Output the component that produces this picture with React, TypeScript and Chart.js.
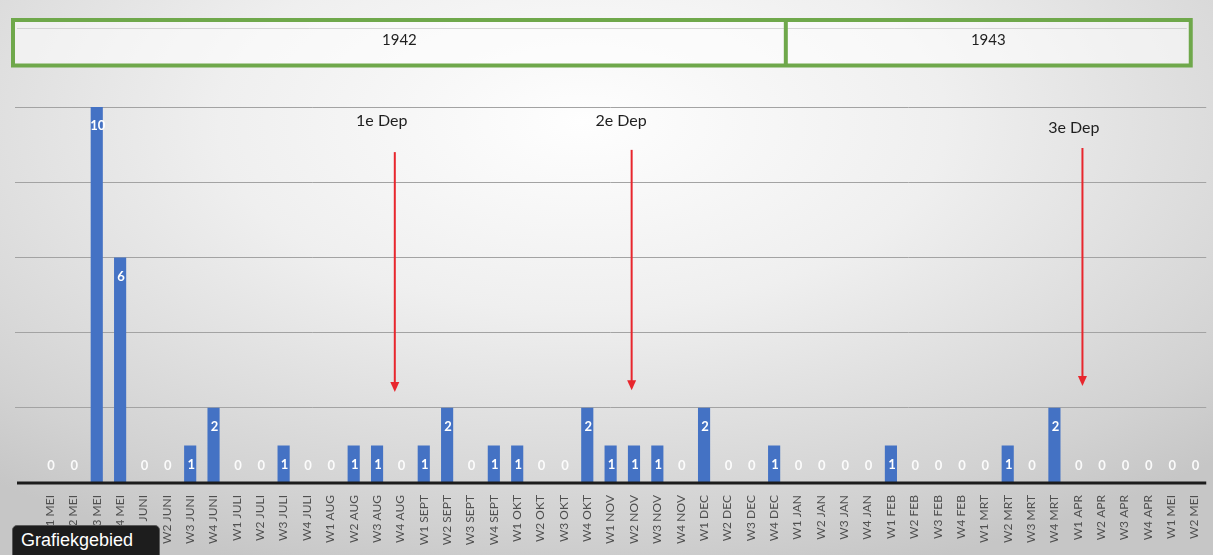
import React, { useEffect, useRef } from "react";
import { Chart, registerables } from "chart.js";

Chart.register(...registerables);

const categories: string[] = [
  "",
  "W1 MEI", "W2 MEI", "W3 MEI", "W4 MEI",
  "W1 JUNI", "W2 JUNI", "W3 JUNI", "W4 JUNI",
  "W1 JULI", "W2 JULI", "W3 JULI", "W4 JULI",
  "W1 AUG", "W2 AUG", "W3 AUG", "W4 AUG",
  "W1 SEPT", "W2 SEPT", "W3 SEPT", "W4 SEPT",
  "W1 OKT", "W2 OKT", "W3 OKT", "W4 OKT",
  "W1 NOV", "W2 NOV", "W3 NOV", "W4 NOV",
  "W1 DEC", "W2 DEC", "W3 DEC", "W4 DEC",
  "W1 JAN", "W2 JAN", "W3 JAN", "W4 JAN",
  "W1 FEB", "W2 FEB", "W3 FEB", "W4 FEB",
  "W1 MRT", "W2 MRT", "W3 MRT", "W4 MRT",
  "W1 APR", "W2 APR", "W3 APR", "W4 APR",
  "W1 MEI", "W2 MEI",
];

const counts: (number | null)[] = [
  null,
  0, 0, 10, 6,
  0, 0, 1, 2,
  0, 0, 1, 0,
  0, 1, 1, 0,
  1, 2, 0, 1,
  1, 0, 0, 2,
  1, 1, 1, 0,
  2, 0, 0, 1,
  0, 0, 0, 0,
  1, 0, 0, 0,
  0, 1, 0, 2,
  0, 0, 0, 0,
  0, 0,
];

const yTicks: number[] = [0, 2, 4, 6, 8, 10];

const years: string[] = ["1942", "1943"];
// last category index (in categories) of each year block
const yearEnds: number[] = [32, 50];

const depLabels: string[] = ["1e Dep", "2e Dep", "3e Dep"];
const depArrowAt: number[] = [15.76, 25.9, 45.2];
const depLabelAt: number[] = [15.2, 25.45, 44.83];
const depLabelValue: number[] = [9.63, 9.63, 9.45];
const depArrowTop: number[] = [8.8, 8.86, 8.91];
const depArrowBottom: number[] = [2.42, 2.47, 2.58];

const BAR = "#4472C4";
const GREEN = "#6FA84B";
const RED = "#E8262D";
const FONT = "Lato, 'Open Sans', sans-serif";

const overlayPlugin = {
  id: "overlay",
  beforeDatasetsDraw(chart: any) {
    const { ctx, chartArea, scales } = chart;
    const x = scales.x;
    ctx.save();
    const top = 20;
    const bottom = 65.5;
    const left = chartArea.left - 2;
    const right = chartArea.right - 15.5;
    ctx.fillStyle = "rgba(255,255,255,0.55)";
    ctx.fillRect(left, top, right - left, bottom - top);
    ctx.strokeStyle = "rgba(190,190,190,0.6)";
    ctx.lineWidth = 1;
    ctx.beginPath();
    ctx.moveTo(left + 4, 28.5);
    ctx.lineTo(right - 4, 28.5);
    ctx.stroke();
    ctx.strokeStyle = GREEN;
    ctx.lineWidth = 4;
    ctx.strokeRect(left, top, right - left, bottom - top);
    let start = left;
    years.forEach((yr, i) => {
      const end =
        i === years.length - 1 ? right : x.getPixelForValue(yearEnds[i] + 0.5);
      if (i < years.length - 1) {
        ctx.beginPath();
        ctx.moveTo(end, top);
        ctx.lineTo(end, bottom);
        ctx.stroke();
      }
      ctx.fillStyle = "#1f1f1f";
      ctx.font = `15px ${FONT}`;
      ctx.textAlign = "center";
      ctx.textBaseline = "middle";
      ctx.fillText(yr, (start + end) / 2, 40);
      start = end;
    });
    ctx.restore();
  },
  afterDatasetsDraw(chart: any) {
    const { ctx, chartArea, scales } = chart;
    const x = scales.x;
    const y = scales.y;
    const base = y.getPixelForValue(0);
    ctx.save();
    ctx.strokeStyle = "#1c1c1c";
    ctx.lineWidth = 3;
    ctx.beginPath();
    ctx.moveTo(chartArea.left + 2, base);
    ctx.lineTo(chartArea.right, base);
    ctx.stroke();

    const meta = chart.getDatasetMeta(0);
    ctx.textAlign = "center";
    ctx.textBaseline = "middle";
    meta.data.forEach((bar: any, i: number) => {
      const v = counts[i];
      if (v === null || v === undefined) return;
      ctx.font = `bold 13px ${FONT}`;
      ctx.fillStyle = v === 0 ? "rgba(255,255,255,0.9)" : "#ffffff";
      const ty = v === 0 ? base - 17 : bar.y + 19;
      ctx.fillText(String(v), bar.x + 1, ty);
    });

    depLabels.forEach((label, i) => {
      ctx.fillStyle = "#1f1f1f";
      ctx.font = `16px ${FONT}`;
      ctx.textAlign = "center";
      ctx.textBaseline = "middle";
      ctx.fillText(
        label,
        x.getPixelForValue(depLabelAt[i]),
        y.getPixelForValue(depLabelValue[i])
      );
      const ax = x.getPixelForValue(depArrowAt[i]);
      const y1 = y.getPixelForValue(depArrowTop[i]);
      const y2 = y.getPixelForValue(depArrowBottom[i]);
      ctx.strokeStyle = RED;
      ctx.fillStyle = RED;
      ctx.lineWidth = 2;
      ctx.beginPath();
      ctx.moveTo(ax, y1);
      ctx.lineTo(ax, y2 - 9);
      ctx.stroke();
      ctx.beginPath();
      ctx.moveTo(ax - 4.5, y2 - 10);
      ctx.lineTo(ax + 4.5, y2 - 10);
      ctx.lineTo(ax, y2);
      ctx.closePath();
      ctx.fill();
    });
    ctx.restore();
  },
};

export default function App() {
  const ref = useRef<HTMLCanvasElement | null>(null);

  useEffect(() => {
    document.body.style.margin = "0";
    if (!ref.current) return;
    const chart = new Chart(ref.current, {
      type: "bar",
      data: {
        labels: categories,
        datasets: [
          {
            data: counts as any,
            backgroundColor: BAR,
            borderWidth: 0,
            barPercentage: 0.52,
            categoryPercentage: 1,
          },
        ],
      },
      options: {
        animation: false,
        responsive: false,
        maintainAspectRatio: false,
        layout: { padding: { left: 15, right: 3, top: 107, bottom: 0 } },
        plugins: {
          legend: { display: false },
          tooltip: { enabled: false },
          title: { display: false },
        },
        scales: {
          x: {
            grid: { display: false },
            border: { display: false },
            ticks: {
              autoSkip: false,
              minRotation: 90,
              maxRotation: 90,
              color: "#4f4f4f",
              padding: 4,
              font: { family: FONT, size: 12 },
            },
            afterFit: (s: any) => {
              s.height = 72;
            },
          },
          y: {
            min: 0,
            max: 10,
            afterBuildTicks: (s: any) => {
              s.ticks = yTicks.map((v) => ({ value: v }));
            },
            ticks: { display: false },
            border: { display: false },
            grid: {
              drawTicks: false,
              color: (c: any) =>
                c.tick && c.tick.value === 0 ? "rgba(0,0,0,0)" : "#a3a3a3",
              lineWidth: 1,
            },
            afterFit: (s: any) => {
              s.width = 0;
            },
          },
        },
      },
      plugins: [overlayPlugin],
    });
    return () => chart.destroy();
  }, []);

  return (
    <div
      style={{
        position: "absolute",
        left: 0,
        top: 0,
        width: 1213,
        height: 555,
        overflow: "hidden",
        background:
          "radial-gradient(ellipse 75% 85% at 48% 22%, #fefefe 0%, #efefef 40%, #d2d2d2 85%, #c6c6c6 100%)",
      }}
    >
      <canvas ref={ref} width={1213} height={555} style={{ display: "block" }} />
      <div
        style={{
          position: "absolute",
          left: 12,
          top: 525,
          width: 148,
          height: 40,
          background: "#1d1d1d",
          border: "1px solid #5a5a5a",
          borderRadius: 5,
          color: "#ffffff",
          fontFamily: "'Liberation Sans', Arial, sans-serif",
          fontSize: 18,
          lineHeight: "28px",
          paddingLeft: 8,
          boxSizing: "border-box",
        }}
      >
        Grafiekgebied
      </div>
    </div>
  );
}
